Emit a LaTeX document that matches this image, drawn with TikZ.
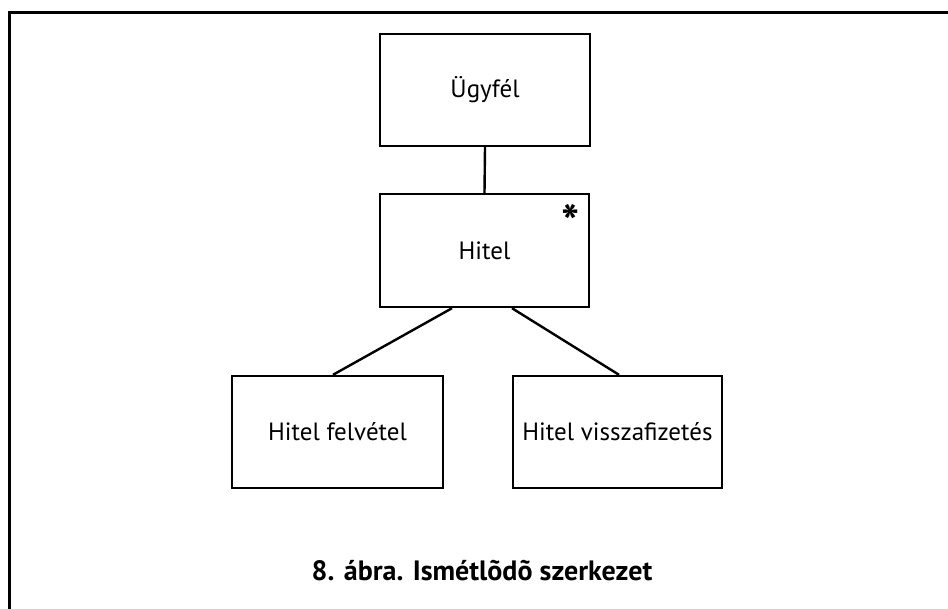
\documentclass[tikz,border=0pt]{standalone}
\usepackage{fontspec}
\setmainfont{PT Sans}
\begin{document}
\begin{tikzpicture}[x=1pt,y=-1pt,
  entity/.style={draw, line width=2.4pt, rectangle, inner sep=0pt,
    minimum width=210pt, minimum height=112pt,
    font=\fontsize{25}{30}\selectfont},
  link/.style={line width=2.4pt},
  frameline/.style={line width=3pt}]
\useasboundingbox (0,0) rectangle (948,608);
% open frame: only top and left edges are visible
\coordinate (fb) at (9,612);
\coordinate (fc) at (9,12);
\coordinate (fr) at (952,12);
\draw[frameline] (fb) -- (fc) -- (fr);

% entities
\node[entity] (ugyfel) at (485,90) {Ügyfél};
\node[entity, minimum width=209pt, minimum height=113pt] (hitel) at (484.5,250.5) {Hitel};
\node[entity, minimum width=211pt] (felvetel) at (337.5,432) {Hitel felvétel};
\node[entity, minimum width=209pt] (vissza) at (617.5,432) {Hitel visszafizetés};

% multiplicity mark of the repeating entity
\node[anchor=base, inner sep=0pt, font=\bfseries\fontsize{48}{48}\selectfont]
  (mult) at (571,239) {*};

% connectors
\draw[link] (ugyfel.south) -- (hitel.north);
\draw[link] ([xshift=-32.5pt]hitel.south) -- ([xshift=-4.5pt]felvetel.north);
\draw[link] ([xshift=27.5pt]hitel.south) -- ([xshift=1.5pt]vissza.north);

% caption
\node[anchor=base, inner sep=0pt, font=\bfseries\fontsize{28}{32}\selectfont]
  (caption) at (482,580) {8. ábra. Ismétlõdõ szerkezet};
\end{tikzpicture}
\end{document}
